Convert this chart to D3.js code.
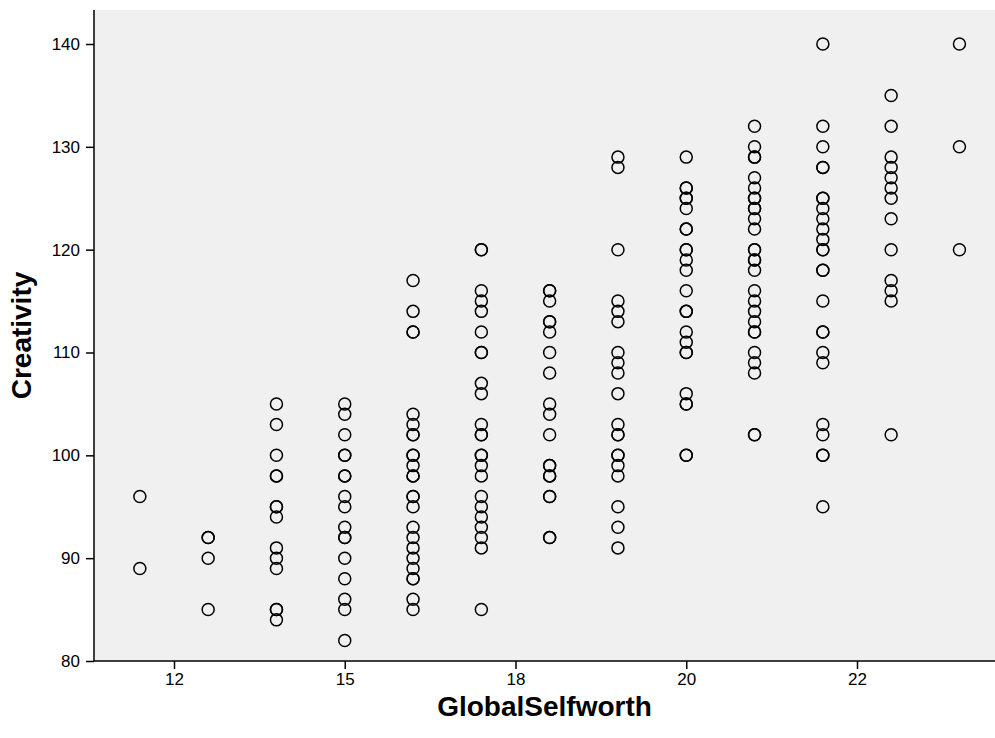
<!DOCTYPE html>
<html>
<head>
<meta charset="utf-8">
<script src="https://cdn.jsdelivr.net/npm/d3@7"></script>
<style>
  html, body { margin: 0; padding: 0; background: #ffffff; }
  svg { display: block; }
  text { font-family: Arial, "Liberation Sans", sans-serif; }
</style>
</head>
<body>
<svg id="chart" width="995" height="738"></svg>
<script>
// GlobalSelfworth score columns
const selfworth = [12, 13, 14, 15, 16, 17, 18, 19, 20, 21, 22, 23, 24];
// Creativity values observed at each GlobalSelfworth score (duplicates repeat)
const creativity12 = [96, 89];
const creativity13 = [92, 92, 90, 85];
const creativity14 = [105, 103, 100, 98, 98, 95, 95, 94, 91, 90, 89, 85, 85, 84];
const creativity15 = [105, 104, 102, 100, 100, 98, 98, 96, 95, 93, 92, 92, 90, 88, 86, 85, 82];
const creativity16 = [117, 114, 112, 112, 104, 103, 102, 102, 100, 100, 99, 98, 98, 96, 96, 95, 93, 92, 91, 90, 89, 88, 88, 86, 85];
const creativity17 = [120, 120, 116, 115, 114, 112, 110, 110, 107, 106, 103, 102, 102, 100, 100, 99, 98, 96, 95, 94, 93, 92, 91, 85];
const creativity18 = [116, 116, 115, 113, 113, 112, 110, 108, 105, 104, 102, 99, 99, 98, 98, 96, 96, 92, 92];
const creativity19 = [129, 128, 120, 115, 114, 113, 110, 109, 108, 106, 103, 102, 102, 100, 100, 99, 98, 95, 93, 91];
const creativity20 = [129, 126, 126, 125, 125, 124, 122, 122, 120, 120, 119, 118, 116, 114, 114, 112, 111, 110, 110, 106, 105, 105, 100, 100];
const creativity21 = [132, 130, 129, 129, 127, 126, 125, 125, 124, 124, 123, 122, 120, 120, 119, 119, 118, 116, 115, 114, 113, 112, 112, 110, 109, 108, 102, 102];
const creativity22 = [140, 132, 130, 128, 128, 125, 125, 124, 123, 122, 121, 120, 120, 118, 118, 115, 112, 112, 110, 109, 103, 102, 100, 100, 95];
const creativity23 = [135, 132, 129, 128, 127, 126, 125, 123, 120, 117, 116, 115, 102];
const creativity24 = [140, 130, 120];
const creativityByScore = [creativity12, creativity13, creativity14, creativity15, creativity16,
  creativity17, creativity18, creativity19, creativity20, creativity21, creativity22, creativity23, creativity24];

// Axis ticks
const xTickValues = [12.5, 15, 17.5, 20, 22.5];
const xTickLabels = ["12", "15", "18", "20", "22"];
const yTickValues = [80, 90, 100, 110, 120, 130, 140];
const xTitle = "GlobalSelfworth";
const yTitle = "Creativity";

// Flatten to points
const points = [];
selfworth.forEach((s, i) => creativityByScore[i].forEach(c => points.push({ x: s, y: c })));

const svg = d3.select("#chart");
const plot = { left: 94, right: 995, top: 10, bottom: 661 };

const x = d3.scaleLinear().domain([12.5, 22.5]).range([174, 857]);
const y = d3.scaleLinear().domain([80, 140]).range([661, 44]);

// Plot background
svg.append("rect")
  .attr("x", plot.left).attr("y", plot.top)
  .attr("width", plot.right - plot.left).attr("height", plot.bottom - plot.top)
  .attr("fill", "#f0f0f0");

// Points
svg.append("g")
  .selectAll("circle")
  .data(points)
  .join("circle")
  .attr("cx", d => x(d.x))
  .attr("cy", d => y(d.y))
  .attr("r", 6)
  .attr("fill", "none")
  .attr("stroke", "#000")
  .attr("stroke-width", 1.5);

const tickFont = 17;

// X axis
const xAxis = d3.axisBottom(x)
  .tickValues(xTickValues)
  .tickFormat((d, i) => xTickLabels[i])
  .tickSize(8).tickPadding(4).tickSizeOuter(0);
const gx = svg.append("g").attr("transform", `translate(0,${plot.bottom})`)
  .call(xAxis).attr("font-size", tickFont);
gx.select(".domain").remove();
gx.append("line").attr("x1", plot.left).attr("x2", plot.right).attr("y1", 0).attr("y2", 0)
  .attr("stroke", "#000").attr("stroke-width", 1.5);
gx.selectAll(".tick line").attr("stroke-width", 1.5);
gx.selectAll(".tick text").style("font-size", tickFont + "px").attr("fill", "#000")
  .attr("font-family", "Arial, 'Liberation Sans', sans-serif");

// Y axis
const yAxis = d3.axisLeft(y)
  .tickValues(yTickValues)
  .tickFormat(d3.format("d"))
  .tickSize(8).tickPadding(6).tickSizeOuter(0);
const gy = svg.append("g").attr("transform", `translate(${plot.left},0)`)
  .call(yAxis).attr("font-size", tickFont);
gy.select(".domain").remove();
gy.append("line").attr("x1", 0).attr("x2", 0).attr("y1", plot.top).attr("y2", plot.bottom)
  .attr("stroke", "#000").attr("stroke-width", 1.5);
gy.selectAll(".tick line").attr("stroke-width", 1.5);
gy.selectAll(".tick text").style("font-size", tickFont + "px").attr("fill", "#000")
  .attr("font-family", "Arial, 'Liberation Sans', sans-serif");

// Axis titles
svg.append("text")
  .attr("x", (plot.left + plot.right) / 2).attr("y", 716)
  .attr("text-anchor", "middle")
  .style("font-size", "28px").attr("font-weight", "bold")
  .text(xTitle);

svg.append("text")
  .attr("transform", `translate(31,${(plot.top + plot.bottom) / 2}) rotate(-90)`)
  .attr("text-anchor", "middle")
  .style("font-size", "28px").attr("font-weight", "bold")
  .text(yTitle);
</script>
</body>
</html>
